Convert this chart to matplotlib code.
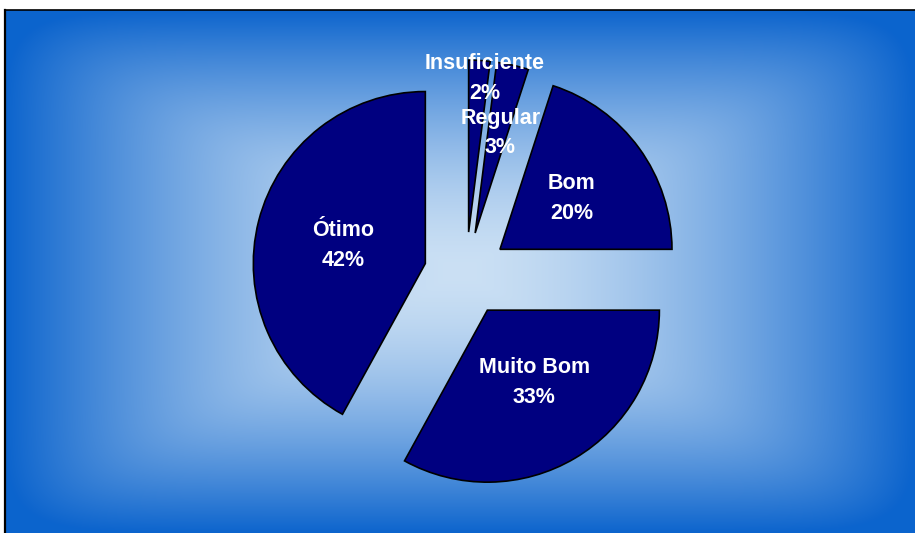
import numpy as np
import matplotlib
matplotlib.use("Agg")
import matplotlib.pyplot as plt

# ---- data ----
categories = ["Insuficiente", "Regular", "Bom", "Muito Bom", "Ótimo"]
values = [2, 3, 20, 33, 42]
pct_labels = ["2%", "3%", "20%", "33%", "42%"]

W, H = 915, 533
fig = plt.figure(figsize=(W / 100, H / 100), dpi=100)
fig.patch.set_facecolor("white")
ax = fig.add_axes([0, 0, 1, 1])

# ---- gradient background (rectangular "from centre" gradient) ----
x0, x1, ytop, ybot = 5, 915, 10, 533  # pixel coords (top origin)
xs = np.arange(x0, x1) + 0.5
ys = np.arange(ytop, ybot) + 0.5
X, Y = np.meshgrid(xs, ys)
cx, cy = (x0 + x1) / 2, (ytop + ybot) / 2
u = np.abs(X - cx) / ((x1 - x0) / 2)
v = np.abs(Y - cy) / ((ybot - ytop) / 2)
p = 10.0
t = np.clip((u ** p + v ** p) ** (1 / p), 0, 1) ** 1.6
c0 = np.array([203, 224, 244]) / 255
c1 = np.array([12, 100, 205]) / 255
img = c0[None, None, :] + (c1 - c0)[None, None, :] * t[..., None]
ax.imshow(img, extent=(x0, x1, H - ybot, H - ytop), origin="upper",
          interpolation="bilinear", zorder=0, aspect="auto")
# frame lines (left and top)
ax.plot([x0, x0], [0, H - ytop], color="black", lw=1.6, zorder=1)
ax.plot([x0, x1], [H - ytop, H - ytop], color="black", lw=1.2, zorder=1)

# ---- exploded pie ----
center = (466, H - 274)
radius = 172
explode = [42] * len(values)  # offset in data units (pixels)
wedges, _ = ax.pie(values, explode=explode, startangle=90, counterclock=False,
                   colors=["#000080"] * len(values), radius=radius,
                   center=center, frame=True,
                   wedgeprops=dict(edgecolor="black", linewidth=1.2))
for w in wedges:
    w.set_zorder(2)

# label placement: distance (in radii) from each wedge's vertex, plus small tweaks
label_dist = [0.90, 0.60, 0.51, 0.50, 0.49]
angle_tweak = [2.5, 1.5, 0.8, -2.5, -2.3]
for w, cat, pct, d, dt in zip(wedges, categories, pct_labels, label_dist, angle_tweak):
    mid = np.deg2rad((w.theta1 + w.theta2) / 2 - dt)
    lx = w.center[0] + d * w.r * np.cos(mid)
    ly = w.center[1] + d * w.r * np.sin(mid)
    ax.text(lx, ly, f"{cat}\n{pct}", ha="center", va="center", color="white",
            fontsize=15.5, fontweight="bold", family="Liberation Sans",
            linespacing=1.55, zorder=5)

ax.set_xlim(0, W)
ax.set_ylim(0, H)
ax.set_aspect("auto")
ax.axis("off")

fig.savefig("out.png", dpi=100)
